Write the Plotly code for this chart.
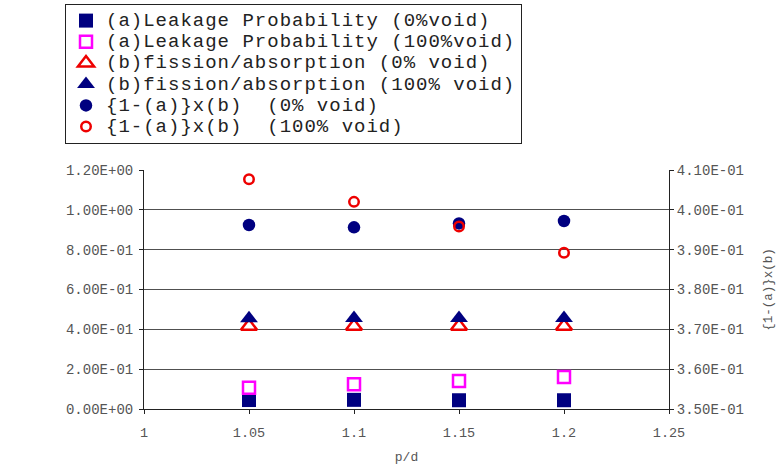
import plotly.graph_objects as go

# p/d ratios
pd_ratio = [1.05, 1.1, 1.15, 1.2]

# (a) leakage probability
leak_0void = [0.045, 0.046, 0.044, 0.044]
leak_100void = [0.107, 0.124, 0.141, 0.161]

# (b) fission/absorption
fa_0void = [0.415, 0.415, 0.415, 0.415]
fa_100void = [0.455, 0.456, 0.456, 0.456]

# {1-(a)}x(b), plotted on the right axis
prod_0void = [0.3962, 0.3956, 0.3966, 0.3972]
prod_100void = [0.4077, 0.4020, 0.3958, 0.3892]

x_ticks = [1.0, 1.05, 1.1, 1.15, 1.2, 1.25]
x_ticktext = ["1", "1.05", "1.1", "1.15", "1.2", "1.25"]
y_ticks = [0.0, 0.2, 0.4, 0.6, 0.8, 1.0, 1.2]
y2_ticks = [0.35, 0.36, 0.37, 0.38, 0.39, 0.40, 0.41]

FONT = "Liberation Mono, Courier New, monospace"
NAVY = "#000080"
RED = "#EE0000"
MAGENTA = "#FF00FF"


def excel_sci(v):
    return f"{v:.2E}"


def legend_name(text):
    text = text.replace("  ", "\u00a0\u00a0")
    return f'<span style="font-size:19px;letter-spacing:1px">{text}</span>'


fig = go.Figure()

fig.add_trace(go.Scatter(
    x=pd_ratio, y=leak_0void, mode="markers",
    name=legend_name("(a)Leakage Probability (0%void)"),
    marker=dict(symbol="square", size=14, color=NAVY),
))
fig.add_trace(go.Scatter(
    x=pd_ratio, y=leak_100void, mode="markers",
    name=legend_name("(a)Leakage Probability (100%void)"),
    marker=dict(symbol="square-open", size=12, color=MAGENTA, line=dict(width=2.5)),
))
fig.add_trace(go.Scatter(
    x=pd_ratio, y=fa_0void, mode="markers",
    name=legend_name("(b)fission/absorption (0% void)"),
    marker=dict(symbol="triangle-up-open", size=14, color=RED, line=dict(width=2.5)),
))
fig.add_trace(go.Scatter(
    x=pd_ratio, y=fa_100void, mode="markers",
    name=legend_name("(b)fission/absorption (100% void)"),
    marker=dict(symbol="triangle-up", size=15.5, color=NAVY),
))
fig.add_trace(go.Scatter(
    x=pd_ratio, y=prod_0void, mode="markers", yaxis="y2",
    name=legend_name("{1-(a)}x(b)  (0% void)"),
    marker=dict(symbol="circle", size=12.5, color=NAVY),
))
fig.add_trace(go.Scatter(
    x=pd_ratio, y=prod_100void, mode="markers", yaxis="y2",
    name=legend_name("{1-(a)}x(b)  (100% void)"),
    marker=dict(symbol="circle-open", size=9.5, color=RED, line=dict(width=2.5)),
))

fig.update_layout(
    width=776, height=465,
    margin=dict(l=144, r=107, t=170, b=56, autoexpand=False),
    paper_bgcolor="white", plot_bgcolor="white",
    font=dict(family=FONT, size=13, color="#555555"),
    showlegend=True,
    legend=dict(
        xref="container", yref="container",
        x=65 / 776, y=1 - 4 / 465, xanchor="left", yanchor="top",
        bgcolor="white", bordercolor="#222222", borderwidth=1,
        font=dict(family=FONT, size=14, color="#222222"),
        itemwidth=30,
    ),
    xaxis=dict(
        range=[1.0, 1.25], tickvals=x_ticks, ticktext=x_ticktext,
        showgrid=False, zeroline=False,
        showline=True, linecolor="#222222", linewidth=1,
        ticks="outside", ticklen=4, tickcolor="#222222",
        ticklabelstandoff=7,
        tickfont=dict(size=13.5),
        title=dict(text="p/d", font=dict(size=13, color="#555555"), standoff=14),
    ),
    yaxis=dict(
        range=[0.0, 1.2], tickvals=y_ticks,
        ticktext=[excel_sci(v) for v in y_ticks],
        showgrid=True, gridcolor="#505050", gridwidth=1, zeroline=False,
        showline=True, linecolor="#222222", linewidth=1,
        ticks="outside", ticklen=4, tickcolor="#222222",
        ticklabelstandoff=3,
        tickfont=dict(size=14),
    ),
    yaxis2=dict(
        overlaying="y", side="right", anchor="x",
        range=[0.35, 0.41], tickvals=y2_ticks,
        ticktext=[excel_sci(v) for v in y2_ticks],
        showgrid=False, zeroline=False,
        showline=True, linecolor="#222222", linewidth=1,
        ticks="outside", ticklen=4, tickcolor="#222222",
        tickfont=dict(size=14),
        title=dict(text="{1-(a)}x(b)", font=dict(size=12.5, color="#555555"), standoff=25),
    ),
)

fig.write_html("out.html")
